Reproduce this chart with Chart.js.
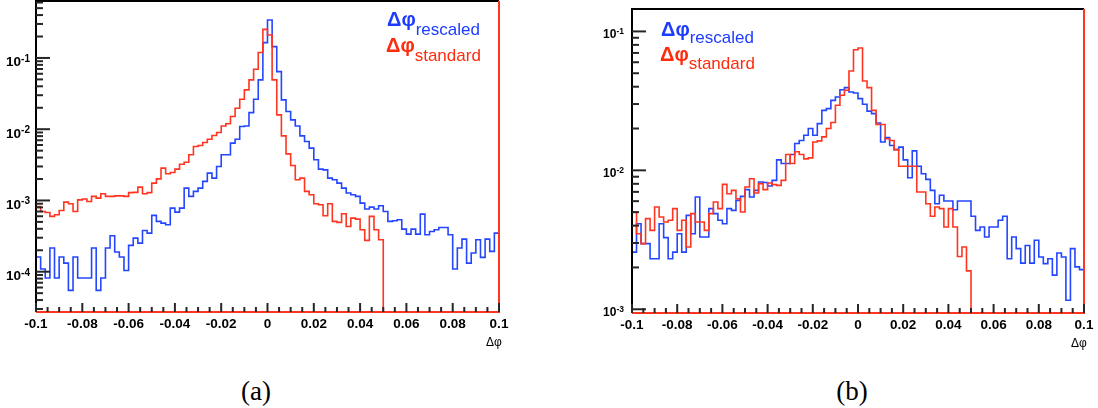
<!DOCTYPE html>
<html>
<head>
<meta charset="utf-8">
<script src="https://cdn.jsdelivr.net/npm/chart.js@4/dist/chart.umd.min.js"></script>
<style>
  body { margin: 0; background: #fff; width: 1098px; height: 408px; position: relative; overflow: hidden; }
  .box { position: absolute; top: 0; height: 340px; }
  .leg { position: absolute; font-family: 'Liberation Sans', Arial, sans-serif; white-space: nowrap; line-height: 1; }
  .leg b { font-size: 20px; }
  .leg span { font-size: 17px; position: relative; }
  .axt { position: absolute; font-family: 'Liberation Sans', Arial, sans-serif; font-size: 12px; line-height: 1; color: #000; }
  .cap { position: absolute; font-family: 'Liberation Serif', 'Times New Roman', serif; font-size: 27px; line-height: 1; color: #000; transform: translateX(-50%); }
</style>
</head>
<body>
<div class="box" style="left:0;width:530px"><canvas id="chartA"></canvas></div>
<div class="box" style="left:560px;width:538px"><canvas id="chartB"></canvas></div>

<div class="leg" style="left:387px;top:9px;color:#1d3cff"><b>Δφ</b><span style="top:9px">rescaled</span></div>
<div class="leg" style="left:386px;top:35px;color:#ff2b0d"><b>Δφ</b><span style="top:9px">standard</span></div>
<div class="leg" style="left:661px;top:19px;color:#1d3cff"><b>Δφ</b><span style="top:7px">rescaled</span></div>
<div class="leg" style="left:660px;top:44px;color:#ff2b0d"><b>Δφ</b><span style="top:8px">standard</span></div>

<div class="axt" style="left:486px;top:336px">Δφ</div>
<div class="axt" style="left:1071px;top:337px">Δφ</div>
<div class="cap" style="left:256px;top:378px">(a)</div>
<div class="cap" style="left:852px;top:378px">(b)</div>

<script>
// binning: 100 bins from -0.1 to 0.1
var binLo = -0.1, binW = 0.002;
var xTickValues = [-0.1, -0.08, -0.06, -0.04, -0.02, 0, 0.02, 0.04, 0.06, 0.08, 0.1];
var xTickLabels = ['-0.1', '-0.08', '-0.06', '-0.04', '-0.02', '0', '0.02', '0.04', '0.06', '0.08', '0.1'];

// panel (a)
var yRangeA = [2.72e-5, 0.63];
var yExpA = [-4, -3, -2, -1];
var rescaledA = [
  1.61e-4, 1.09e-4, 8.15e-5, 2.15e-4, 8.15e-5, 1.61e-4, 1.32e-4, 5.47e-5, 1.61e-4, 8.15e-5,
  8.15e-5, 8.15e-5, 2.15e-4, 5.47e-5, 8.15e-5, 2.15e-4, 3.20e-4, 1.89e-4, 1.61e-4, 1.04e-4,
  2.34e-4, 2.96e-4, 2.52e-4, 3.79e-4, 3.48e-4, 6.17e-4, 5.08e-4, 4.81e-4, 4.56e-4, 7.81e-4,
  6.86e-4, 7.81e-4, 1.49e-3, 1.14e-3, 1.34e-3, 1.49e-3, 1.85e-3, 2.42e-3, 2.06e-3, 3.00e-3,
  4.37e-3, 4.37e-3, 6.37e-3, 7.24e-3, 1.09e-2, 1.11e-2, 1.71e-2, 2.63e-2, 4.92e-2, 0.164,
  0.341, 0.144, 6.43e-2, 2.58e-2, 1.77e-2, 1.35e-2, 1.11e-2, 8.07e-3, 6.71e-3, 5.42e-3,
  3.72e-3, 2.75e-3, 2.69e-3, 2.06e-3, 1.95e-3, 1.75e-3, 1.49e-3, 1.27e-3, 1.20e-3, 1.14e-3,
  9.18e-4, 7.57e-4, 8.07e-4, 7.57e-4, 8.41e-4, 7.01e-4, 5.08e-4, 5.19e-4, 5.36e-4, 3.96e-4,
  3.37e-4, 3.96e-4, 3.37e-4, 6.43e-4, 3.30e-4, 3.67e-4, 3.88e-4, 4.18e-4, 4.18e-4, 3.30e-4,
  1.09e-4, 2.15e-4, 2.87e-4, 1.32e-4, 1.83e-4, 2.81e-4, 1.59e-4, 2.87e-4, 1.93e-4, 3.48e-4
];
var standardA = [
  8.24e-4, 7.01e-4, 6.79e-4, 5.97e-4, 6.30e-4, 7.24e-4, 9.48e-4, 8.98e-4, 7.01e-4, 1.02e-3,
  1.05e-3, 9.68e-4, 1.14e-3, 1.08e-3, 1.24e-3, 1.14e-3, 1.14e-3, 1.16e-3, 1.16e-3, 1.14e-3,
  1.29e-3, 1.30e-3, 1.54e-3, 1.24e-3, 1.29e-3, 1.75e-3, 2.01e-3, 2.84e-3, 2.37e-3, 2.47e-3,
  2.75e-3, 3.23e-3, 3.44e-3, 4.37e-3, 5.71e-3, 5.90e-3, 6.50e-3, 7.24e-3, 8.15e-3, 8.98e-3,
  1.11e-2, 1.19e-2, 1.51e-2, 1.97e-2, 2.63e-2, 3.56e-2, 4.92e-2, 6.93e-2, 0.119, 0.252,
  0.210, 4.92e-2, 1.59e-2, 8.07e-3, 4.51e-3, 3.10e-3, 1.95e-3, 2.06e-3, 1.34e-3, 1.20e-3,
  8.98e-4, 8.69e-4, 6.10e-4, 8.98e-4, 5.08e-4, 4.92e-4, 6.50e-4, 4.32e-4, 5.65e-4, 5.47e-4,
  3.88e-4, 2.75e-4, 5.97e-4, 3.88e-4, 2.81e-4, 0, 0, 0, 0, 0,
  0, 0, 0, 0, 0, 0, 0, 0, 0, 0,
  0, 0, 0, 0, 0, 0, 0, 0, 0, 0
];

// panel (b)
var yRangeB = [9.4e-4, 0.145];
var yExpB = [-3, -2, -1];
var rescaledB = [
  2.58e-3, 4.13e-3, 2.97e-3, 2.97e-3, 2.31e-3, 2.31e-3, 4.13e-3, 3.28e-3, 2.31e-3, 2.58e-3,
  3.50e-3, 2.58e-3, 4.74e-3, 3.50e-3, 6.43e-3, 3.31e-3, 3.31e-3, 5.30e-3, 4.88e-3, 4.37e-3,
  4.13e-3, 5.30e-3, 5.15e-3, 6.08e-3, 6.50e-3, 7.26e-3, 6.43e-3, 7.18e-3, 8.24e-3, 8.17e-3,
  7.71e-3, 8.47e-3, 1.19e-2, 1.12e-2, 1.12e-2, 1.30e-2, 1.56e-2, 1.64e-2, 1.79e-2, 2.00e-2,
  1.79e-2, 2.17e-2, 2.70e-2, 2.78e-2, 3.19e-2, 3.37e-2, 3.80e-2, 3.94e-2, 3.66e-2, 3.60e-2,
  3.28e-2, 2.99e-2, 2.67e-2, 2.56e-2, 2.19e-2, 1.60e-2, 1.72e-2, 1.51e-2, 1.41e-2, 1.47e-2,
  1.19e-2, 8.85e-3, 1.38e-2, 1.07e-2, 9.46e-3, 8.61e-3, 7.18e-3, 5.75e-3, 6.61e-3, 6.01e-3,
  6.01e-3, 5.21e-3, 6.01e-3, 6.01e-3, 6.01e-3, 4.67e-3, 3.70e-3, 3.91e-3, 3.31e-3, 3.91e-3,
  3.91e-3, 4.37e-3, 4.67e-3, 2.31e-3, 3.31e-3, 2.73e-3, 2.15e-3, 2.88e-3, 2.15e-3, 3.14e-3,
  2.38e-3, 2.13e-3, 2.31e-3, 1.76e-3, 2.54e-3, 2.38e-3, 1.16e-3, 2.73e-3, 2.02e-3, 1.93e-3
];
var standardB = [
  5.01e-3, 3.50e-3, 2.97e-3, 4.49e-3, 3.70e-3, 5.45e-3, 4.62e-3, 4.25e-3, 4.37e-3, 5.30e-3,
  3.70e-3, 4.37e-3, 2.81e-3, 4.88e-3, 4.25e-3, 4.25e-3, 3.70e-3, 4.88e-3, 5.92e-3, 5.30e-3,
  7.93e-3, 6.79e-3, 7.18e-3, 6.25e-3, 5.01e-3, 7.59e-3, 8.71e-3, 6.87e-3, 8.02e-3, 7.26e-3,
  8.11e-3, 7.89e-3, 7.80e-3, 8.47e-3, 1.30e-2, 1.12e-2, 1.36e-2, 1.30e-2, 1.21e-2, 1.23e-2,
  1.60e-2, 1.63e-2, 1.74e-2, 2.00e-2, 2.21e-2, 2.94e-2, 3.47e-2, 3.77e-2, 5.19e-2, 7.38e-2,
  7.59e-2, 4.40e-2, 3.94e-2, 2.70e-2, 2.14e-2, 2.14e-2, 1.69e-2, 1.64e-2, 1.41e-2, 1.07e-2,
  1.07e-2, 1.07e-2, 1.07e-2, 6.98e-3, 6.98e-3, 5.75e-3, 4.67e-3, 5.45e-3, 5.30e-3, 3.91e-3,
  5.30e-3, 3.91e-3, 2.40e-3, 2.81e-3, 1.89e-3, 0, 0, 0, 0, 0,
  0, 0, 0, 0, 0, 0, 0, 0, 0, 0,
  0, 0, 0, 0, 0, 0, 0, 0, 0, 0
];

var BLUE = '#2446ff', RED = '#ff3520';

// empty bins sit on the axis floor, like ROOT does on a log scale
function histPoints(vals, floor) {
  var pts = vals.map(function(v, i) { return { x: binLo + i * binW, y: v > 0 ? v : floor }; });
  pts.push({ x: binLo + vals.length * binW, y: pts[pts.length - 1].y });
  return pts;
}

// ROOT-style frame: black top/left, red bottom/right, inward ticks, 10^n labels
var rootFrame = {
  id: 'rootFrame',
  afterDraw: function(chart) {
    var o = chart.options.plugins.rootFrame;
    var ctx = chart.ctx, a = chart.chartArea, xs = chart.scales.x, ys = chart.scales.y;
    ctx.save();
    ctx.fillStyle = '#000';
    ctx.fillRect(a.left - 1, a.top - 1, a.right - a.left + 1, 2);
    ctx.fillRect(a.left - 1, a.top - 1, 2, a.bottom - a.top + 1);
    ctx.fillStyle = RED;
    ctx.fillRect(a.left, a.bottom - 1, a.right - a.left + 1, 2);
    ctx.fillRect(a.right - 1, a.top, 2, a.bottom - a.top);

    // x ticks every 0.005, long ones at the labelled values
    ctx.fillStyle = '#262626';
    for (var k = 0; k <= 40; k++) {
      var px = xs.getPixelForValue(-0.1 + k * 0.005);
      var tl = (k % 4 === 0) ? 9 : 5;
      ctx.fillRect(px - 1, a.bottom - tl, 2, tl);
    }
    // y ticks at 1..9 x 10^n
    for (var d = -6; d <= 1; d++) {
      for (var m = 1; m <= 9; m++) {
        var v = m * Math.pow(10, d);
        if (v < ys.min || v > ys.max) continue;
        var py = ys.getPixelForValue(v);
        ctx.fillRect(a.left, py - 1, (m === 1) ? 14 : 7, 2);
      }
    }

    ctx.fillStyle = '#000';
    ctx.textBaseline = 'alphabetic';
    o.exps.forEach(function(e) {
      var ty = ys.getPixelForValue(Math.pow(10, e));
      var sup = String(e);
      ctx.font = o.supFont;
      var ws = ctx.measureText(sup).width;
      var right = a.left - o.gap;
      ctx.fillText(sup, right - ws, ty + o.supOff);
      ctx.font = o.font;
      var wb = ctx.measureText('10').width;
      ctx.fillText('10', right - ws - wb, ty + o.baseOff);
    });
    ctx.restore();
  }
};

function makeChart(id, rescaled, standard, yRange, exps, pad, yWidth, xHeight, labelOpts) {
  return new Chart(document.getElementById(id), {
    type: 'line',
    data: {
      datasets: [
        { label: 'standard', data: histPoints(standard, yRange[0]), borderColor: RED, borderWidth: 1.6, stepped: true, pointRadius: 0, fill: false, order: 1 },
        { label: 'rescaled', data: histPoints(rescaled, yRange[0]), borderColor: BLUE, borderWidth: 1.6, stepped: true, pointRadius: 0, fill: false, order: 2 }
      ]
    },
    options: {
      responsive: true, maintainAspectRatio: false, animation: false,
      layout: { padding: pad },
      plugins: {
        legend: { display: false }, tooltip: { enabled: false },
        rootFrame: Object.assign({ exps: exps }, labelOpts)
      },
      scales: {
        x: {
          type: 'linear', min: -0.1, max: 0.1,
          grid: { display: false, drawTicks: false }, border: { display: false },
          afterBuildTicks: function(s) { s.ticks = xTickValues.map(function(v) { return { value: v }; }); },
          afterFit: function(s) { s.height = xHeight; },
          ticks: {
            autoSkip: false, maxRotation: 0, padding: 4, color: '#000',
            font: { family: '"Liberation Sans", Arial, sans-serif', size: 13.5, weight: 'bold' },
            callback: function(v, i) { return xTickLabels[i]; }
          }
        },
        y: {
          type: 'logarithmic', min: yRange[0], max: yRange[1],
          grid: { display: false, drawTicks: false }, border: { display: false },
          ticks: { display: false },
          afterFit: function(s) { s.width = yWidth; }
        }
      }
    },
    plugins: [rootFrame]
  });
}

makeChart('chartA', rescaledA, standardA, yRangeA, yExpA, { left: 0, right: 31, top: 1, bottom: 0 }, 36, 28,
  { font: 'bold 13.5px "Liberation Sans"', supFont: 'bold 10px "Liberation Sans"', gap: 6, baseOff: 8.5, supOff: 4 });
makeChart('chartB', rescaledB, standardB, yRangeB, yExpB, { left: 0, right: 14, top: 9, bottom: 0 }, 72, 27,
  { font: 'bold 12px "Liberation Sans"', supFont: 'bold 8.5px "Liberation Sans"', gap: 8, baseOff: 6.5, supOff: 2.5 });
</script>
</body>
</html>
